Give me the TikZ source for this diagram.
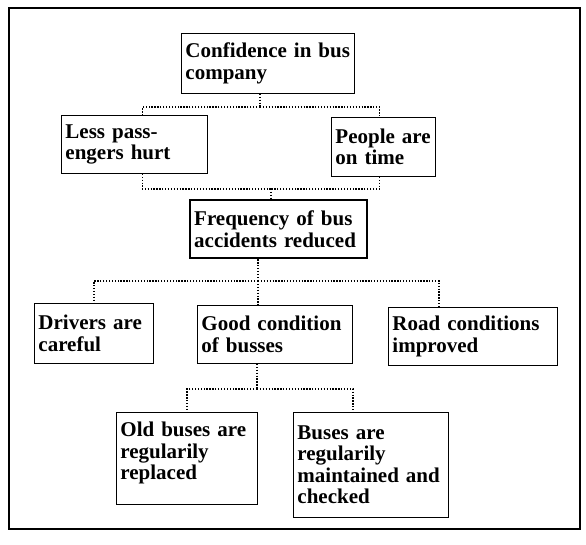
\documentclass[tikz,border=0pt]{standalone}
\usepackage{fontspec}
\setmainfont{Liberation Serif}
\usepackage{tikz}
\tikzset{
  box/.style={rectangle, draw=black, line width=0.9pt, anchor=north west,
              text width=#1, align=left, inner xsep=4pt, inner ysep=0pt, fill=white},
  box/.default=3cm,
  mainbox/.style={box=#1, line width=2.4pt},
  mainbox/.default=3cm,
  link/.style={line width=1.3pt, dash pattern=on 1.3pt off 1.6pt},
  frame/.style={draw=black, line width=1.5pt},
}

\begin{document}
\begin{tikzpicture}[x=1pt, y=-1pt, font=\fontsize{21}{21.5}\selectfont\bfseries]

\path[fill=white, use as bounding box] (0,0) rectangle (586,545);
\draw[frame] (9,8) rectangle (580,529);

% ── top level ────────────────────────────────────────────────────────────────
\node[box=165pt, minimum height=60pt] (conf) at (181,33)
  {Confidence in bus\\company};

\node[box=138pt, minimum height=58pt] (less) at (61,115)
  {Less pass-\\engers hurt};
\node[box=96pt, minimum height=59pt] (ontime) at (331,117)
  {People are\\on time};

\node[mainbox=169pt, minimum height=58pt] (freq) at (189,199)
  {Frequency of bus\\accidents reduced};

% ── causes ───────────────────────────────────────────────────────────────────
\node[box=111pt, minimum height=60pt] (drivers) at (34,303)
  {Drivers are\\careful};
\node[box=147pt, minimum height=58pt] (good) at (197,305)
  {Good condition\\of busses};
\node[box=161pt, minimum height=58pt] (road) at (388,307)
  {Road conditions\\improved};

\node[box=133pt, minimum height=92pt, text depth=58pt] (old) at (116,412)
  {Old buses are\\regularily\\replaced};
\node[box=147pt, minimum height=105pt] (maint) at (293,412)
  {Buses are\\regularily\\maintained and\\checked};

% ── dotted links ─────────────────────────────────────────────────────────────
\coordinate (j1) at (260,107);
\coordinate (j2) at (271,189);
\coordinate (j3) at (258,281);
\coordinate (j4) at (257,389);

\draw[link] (conf.south -| j1) -- (j1);
\draw[link] (j1) -| ([xshift=8pt]less.north);
\draw[link] (j1) -| ([xshift=-4pt]ontime.north);

\draw[link] ([xshift=8pt]less.south) |- (j2);
\draw[link] ([xshift=-4pt]ontime.south) |- (j2);
\draw[link] (j2) -- (freq.north -| j2);

\draw[link] (freq.south -| j3) -- (j3);
\draw[link] (j3) -| (drivers.north);
\draw[link] (j3) -- (good.north -| j3);
\draw[link] (j3) -| ([xshift=-34pt]road.north);

\draw[link] (good.south -| j4) -- (j4);
\draw[link] (j4) -| (old.north);
\draw[link] (j4) -| ([xshift=-18pt]maint.north);

\end{tikzpicture}
\end{document}
